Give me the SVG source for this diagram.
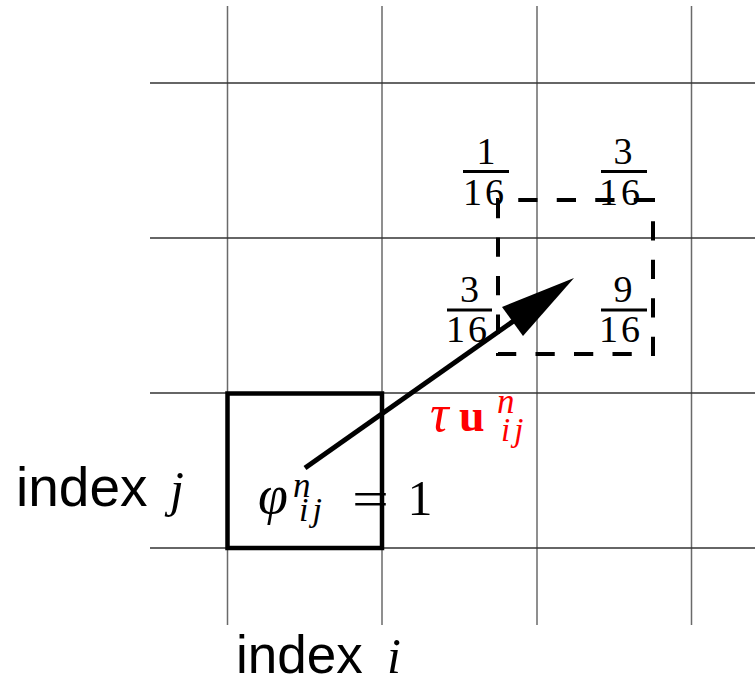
<svg xmlns="http://www.w3.org/2000/svg" width="755" height="683" viewBox="0 0 755 683">
<style>
.vgrid{stroke:#6a6a6a;stroke-width:1.5;fill:none}
.hgrid{stroke:#333;stroke-width:1.3;fill:none}
.sans{font-family:"Liberation Sans",Arial,sans-serif;fill:#000}
.math{font-family:"Liberation Serif","Times New Roman",serif;font-style:italic;fill:#000}
.rm{font-family:"Liberation Serif","Times New Roman",serif;fill:#000}
.frac{font-family:"Liberation Serif","Times New Roman",serif;font-size:38px;text-anchor:middle;fill:#000}
.den{font-family:"Liberation Serif","Times New Roman",serif;font-size:38px;letter-spacing:3px;fill:#000}
.bar{stroke:#000;stroke-width:3.2}
.red{fill:#ff0000}
</style>
<rect width="755" height="683" fill="#fff"/>
<g id="grid">
<line class="vgrid" x1="227.5" y1="6" x2="227.5" y2="625"/>
<line class="vgrid" x1="382" y1="6" x2="382" y2="625"/>
<line class="vgrid" x1="537" y1="6" x2="537" y2="625"/>
<line class="vgrid" x1="691.5" y1="6" x2="691.5" y2="625"/>
<line class="hgrid" x1="150" y1="83" x2="755" y2="83"/>
<line class="hgrid" x1="150" y1="238" x2="755" y2="238"/>
<line class="hgrid" x1="150" y1="393" x2="755" y2="393"/>
<line class="hgrid" x1="150" y1="548" x2="755" y2="548"/>
</g>
<g id="cell-ij">
<rect x="227.5" y="393.5" width="154.5" height="154.5" fill="none" stroke="#000" stroke-width="4.5"/>
<text class="math" font-size="54"><tspan x="258" y="513">φ</tspan><tspan x="293" y="497" font-size="35">n</tspan><tspan x="299" y="521" font-size="34" letter-spacing="4">ij</tspan></text>
<text class="rm" x="352" y="516" font-size="50" textLength="37" lengthAdjust="spacingAndGlyphs">=</text>
<text class="rm" x="420" y="515" font-size="50" text-anchor="middle">1</text>
</g>
<g id="stencil">
<path d="M653,200 H498 V354 H653 Z" fill="none" stroke="#000" stroke-width="4" stroke-dasharray="19.25 19.25"/>
</g>
<g id="weights">
<g id="w-tl">
<text class="frac" x="486" y="164">1</text>
<line class="bar" x1="463" y1="171.5" x2="509" y2="171.5"/>
<text class="den" x="463" y="205">16</text>
</g>
<g id="w-tr">
<text class="frac" x="623" y="164">3</text>
<line class="bar" x1="601" y1="171.5" x2="647" y2="171.5"/>
<text class="den" x="599" y="205">16</text>
</g>
<g id="w-bl">
<text class="frac" x="469.5" y="302">3</text>
<line class="bar" x1="447" y1="310" x2="492" y2="310"/>
<text class="den" x="446" y="342">16</text>
</g>
<g id="w-br">
<text class="frac" x="623" y="302">9</text>
<line class="bar" x1="601" y1="310" x2="647" y2="310"/>
<text class="den" x="599" y="342">16</text>
</g>
</g>
<g id="connectors">
<line x1="305" y1="468" x2="515" y2="320" stroke="#000" stroke-width="5"/>
<polygon points="574,278 502,307 523,336" fill="#000"/>
</g>
<g id="velocity-label">
<text class="math red" font-size="52"><tspan x="430" y="431">τ</tspan><tspan x="459" y="431" font-size="46" font-weight="bold" style="font-style:normal">u</tspan><tspan x="497" y="413" font-size="35">n</tspan><tspan x="501" y="441" font-size="33" letter-spacing="4">ij</tspan></text>
</g>
<g id="label-j">
<text class="sans" x="16" y="506" font-size="55">index</text>
<text class="math" x="170" y="506" font-size="50">j</text>
</g>
<g id="label-i">
<text class="sans" x="236" y="673" font-size="53">index</text>
<text class="math" x="387" y="673" font-size="50">i</text>
</g>
</svg>
